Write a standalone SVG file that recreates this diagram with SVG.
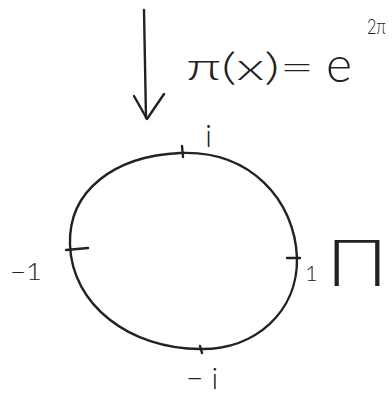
<svg xmlns="http://www.w3.org/2000/svg" width="392" height="394" viewBox="0 0 392 394">
<style>
.ink{fill:none;stroke:#222;stroke-width:2.4;stroke-linecap:round;stroke-linejoin:round}
.l{font-family:Lato,"Open Sans",sans-serif;font-weight:300;fill:#222}
</style>
<rect width="392" height="394" fill="#fff"/>
<g id="connectors">
<path class="ink" d="M144,10 L146,118"/>
<path class="ink" d="M134,96 L147,119 L164,94"/>
</g>
<g id="circle">
<path class="ink" d="M180,153 C250,150 295,200 297,258 C298,312 255,350 200,349 C130,349 72,305 70,245 C68,190 115,156 180,153 Z"/>
<path class="ink" d="M182,146 L183,157"/>
<path class="ink" d="M66,250 L88,248"/>
<path class="ink" d="M287,258 L300,258"/>
<path class="ink" d="M200,346 L202,353"/>
</g>
<g id="formula">
<text class="l" x="186" y="80" font-size="38" textLength="128" lengthAdjust="spacingAndGlyphs">π(x)=</text>
<text class="l" x="326" y="82" font-size="50">e</text>
<text class="l" x="367" y="34" font-size="22" textLength="19" lengthAdjust="spacingAndGlyphs">2π</text>
</g>
<g id="label-i"><text class="l" x="205" y="147" font-size="32">i</text></g>
<g id="label-minus1"><text class="l" x="10" y="280" font-size="24" textLength="32" lengthAdjust="spacingAndGlyphs">−1</text></g>
<g id="label-1"><text class="l" x="305" y="281" font-size="22">1</text></g>
<g id="label-Pi"><text class="l" x="326" y="286" font-size="66" textLength="62" lengthAdjust="spacingAndGlyphs">Π</text></g>
<g id="label-minus-i"><text class="l" x="186" y="389" font-size="30" letter-spacing="8">−i</text></g>
</svg>
